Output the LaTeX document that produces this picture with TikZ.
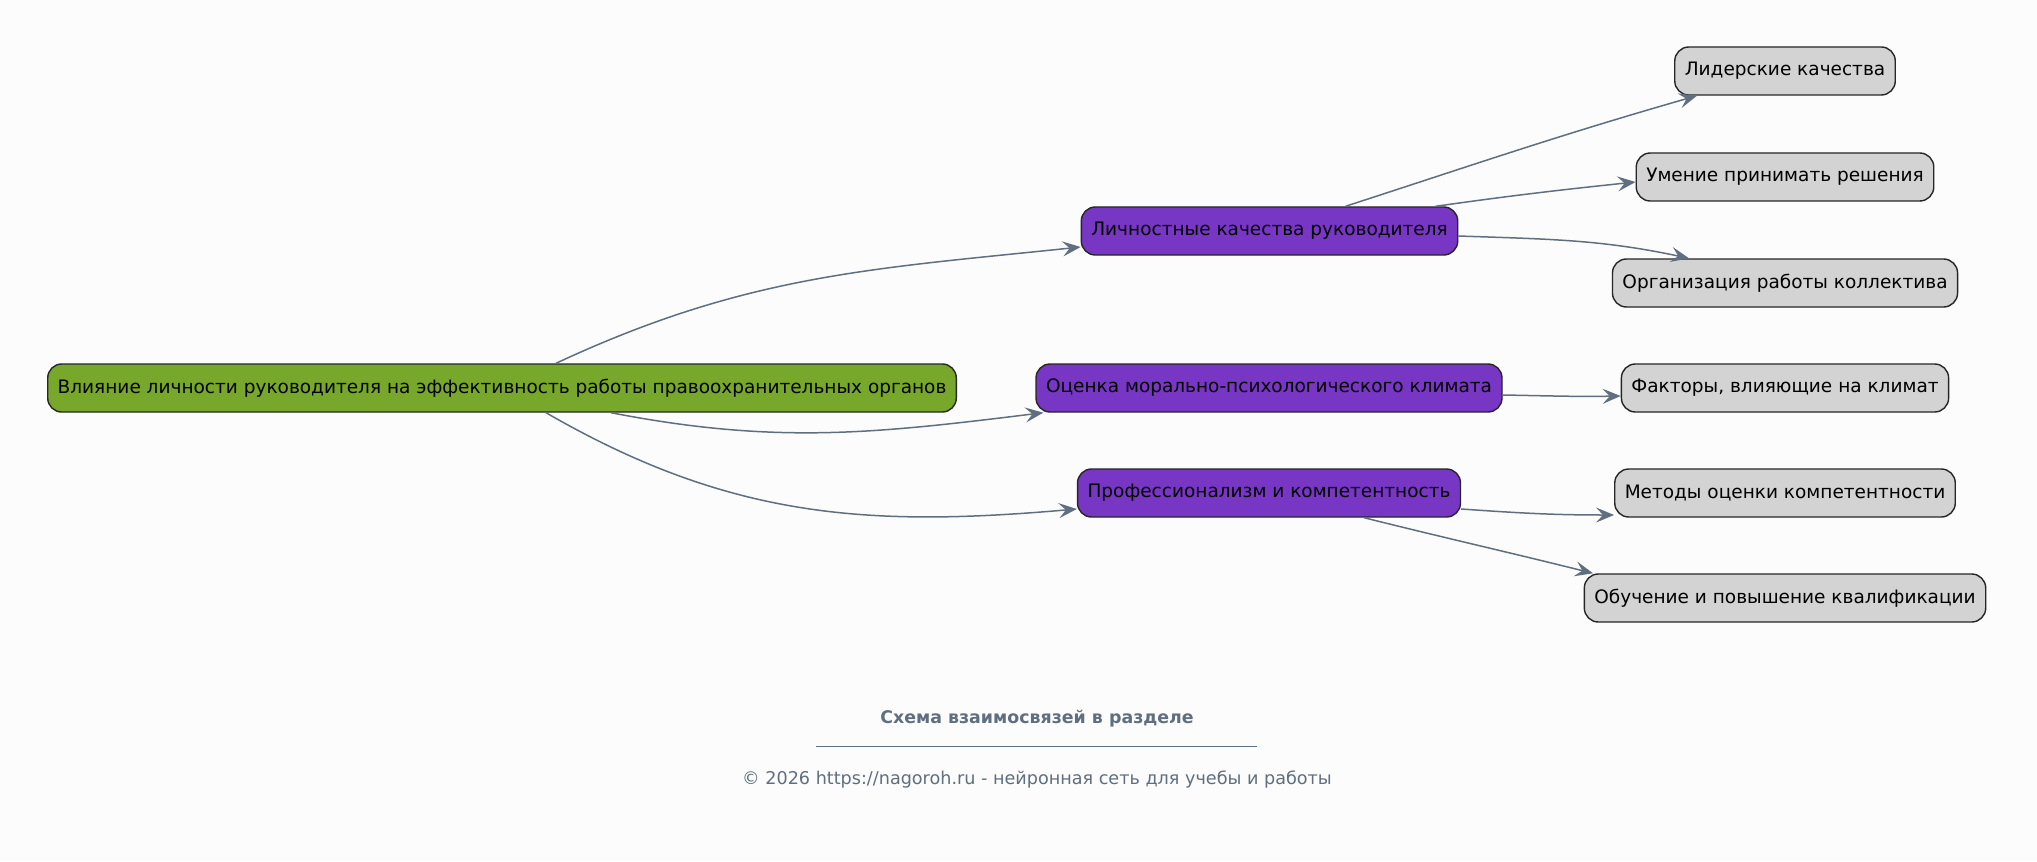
\documentclass[tikz,border=0pt]{standalone}
\usepackage{fontspec}
\setmainfont{DejaVu Sans}
\usetikzlibrary{arrows.meta}
\definecolor{rootgreen}{HTML}{78A82B}
\definecolor{midviolet}{HTML}{7836C4}
\definecolor{leafgrey}{HTML}{D3D3D3}
\definecolor{edgeslate}{HTML}{5F6F7F}
\definecolor{bgwhite}{HTML}{FCFCFC}
\begin{document}
\begin{tikzpicture}[x=0.5pt,y=-0.5pt,
  box/.style={draw=black!85, line width=0.7pt, rounded corners=7pt, inner xsep=5pt, minimum height=24pt, font=\fontsize{9.25}{11}\selectfont, text=black},
  rootbox/.style={box, fill=rootgreen},
  midbox/.style={box, fill=midviolet},
  leafbox/.style={box, fill=leafgrey},
  link/.style={-{Stealth[length=9pt,width=7.5pt,inset=3.5pt]}, draw=edgeslate, line width=0.75pt}]
\useasboundingbox[fill=bgwhite] (0,0) rectangle (2037,861);
\node[rootbox] (root) at (502,388) {Влияние личности руководителя на эффективность работы правоохранительных органов};
\node[midbox] (personal) at (1269.5,231) {Личностные качества руководителя};
\node[midbox] (climate) at (1269,388) {Оценка морально-психологического климата};
\node[midbox] (prof) at (1269,493) {Профессионализм и компетентность};
\node[leafbox] (leader) at (1785,71) {Лидерские качества};
\node[leafbox] (decide) at (1785,177) {Умение принимать решения};
\node[leafbox] (organize) at (1785,283) {Организация работы коллектива};
\node[leafbox] (factors) at (1785,388) {Факторы, влияющие на климат};
\node[leafbox] (methods) at (1785,493) {Методы оценки компетентности};
\node[leafbox] (training) at (1785,598) {Обучение и повышение квалификации};
\draw[link] ([xshift=27pt]root.north) to [out=25,in=186] ([yshift=-8pt]personal.west);
\draw[link] ([xshift=54.5pt]root.south) to [out=-11,in=187] ([xshift=4pt]climate.south west);
\draw[link] ([xshift=22pt]root.south) to [out=-30,in=185] ([yshift=-8pt]prof.west);
\draw[link] ([xshift=38pt]personal.north) to [out=18,in=196] ([xshift=-44pt]leader.south);
\draw[link] ([xshift=83pt]personal.north) to [out=8,in=186] ([yshift=-2.5pt]decide.west);
\draw[link] ([yshift=-2.5pt]personal.east) to [out=-2,in=168] ([xshift=-48pt]organize.north);
\draw[link] ([yshift=-3.5pt]climate.east) to [out=-1,in=181] ([yshift=-4pt]factors.west);
\draw[link] ([yshift=-8pt]prof.east) to [out=-4,in=180] ([yshift=-11pt]methods.west);
\draw[link] ([xshift=47.5pt]prof.south) to [out=-14,in=166] ([xshift=-96pt]training.north);
\node[font=\bfseries\fontsize{8.7}{10}\selectfont, text=edgeslate] (title) at (1037,719) {Схема взаимосвязей в разделе};
\draw[edgeslate, line width=0.5pt] (816,746) -- (1257,746);
\node[font=\fontsize{8.8}{10}\selectfont, text=edgeslate] (footer) at (1037,779) {© 2026 https://nagoroh.ru - нейронная сеть для учебы и работы};
\end{tikzpicture}
\end{document}
